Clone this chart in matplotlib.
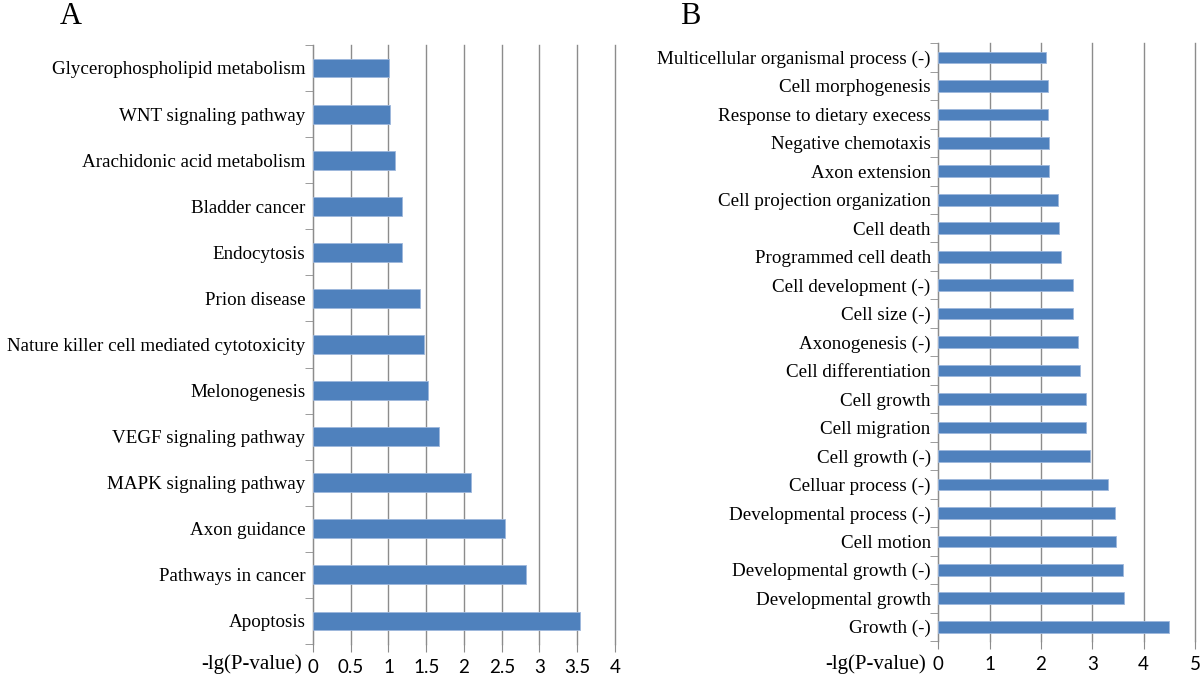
import numpy as np
import matplotlib.pyplot as plt

# panel A (bottom to top)
kegg_terms = ["Apoptosis", "Pathways in cancer", "Axon guidance", "MAPK signaling pathway",
              "VEGF signaling pathway", "Melonogenesis", "Nature killer cell mediated cytotoxicity",
              "Prion disease", "Endocytosis", "Bladder cancer", "Arachidonic acid metabolism",
              "WNT signaling pathway", "Glycerophospholipid metabolism"]
kegg_vals = [3.53, 2.82, 2.54, 2.09, 1.67, 1.53, 1.47, 1.42, 1.18, 1.18, 1.08, 1.02, 1.01]

# panel B (bottom to top)
go_terms = ["Growth (-)", "Developmental growth", "Developmental growth (-)", "Cell motion",
            "Developmental process (-)", "Celluar process (-)", "Cell growth (-)", "Cell migration",
            "Cell growth", "Cell differentiation", "Axonogenesis (-)", "Cell size (-)",
            "Cell development (-)", "Programmed cell death", "Cell death",
            "Cell projection organization", "Axon extension", "Negative chemotaxis",
            "Response to dietary execess", "Cell morphogenesis", "Multicellular organismal process (-)"]
go_vals = [4.50, 3.61, 3.59, 3.46, 3.44, 3.31, 2.95, 2.88, 2.88, 2.76, 2.72, 2.63, 2.62,
           2.39, 2.36, 2.34, 2.16, 2.16, 2.13, 2.13, 2.10]

bar_color = "#4F81BD"
grid_color = "#8c8c8c"
serif = "Liberation Serif"
sans = "Lato"

fig = plt.figure(figsize=(12, 6.8), dpi=100)


def panel(rect, terms, vals, xmax, xticks, xticklabels):
    ax = fig.add_axes(rect)
    y = np.arange(len(terms))
    ax.barh(y, vals, height=0.41, color=bar_color, edgecolor="#9db7dc", linewidth=0.6, zorder=3)
    ax.set_ylim(-0.5, len(terms) - 0.5)
    ax.set_xlim(0, xmax)
    ax.set_xticks(xticks)
    ax.set_xticklabels(xticklabels, fontfamily=sans, fontsize=13.5)
    ax.set_yticks(y)
    ax.set_yticklabels(terms, fontfamily=serif, fontsize=13.7)
    ax.set_yticks(np.arange(len(terms) + 1) - 0.5, minor=True)
    ax.tick_params(axis="y", which="major", length=0, pad=5.5)
    ax.tick_params(axis="y", which="minor", length=6, color=grid_color, direction="out")
    ax.tick_params(axis="x", length=6, color=grid_color, pad=5)
    ax.grid(axis="x", color=grid_color, linewidth=1.0, zorder=0)
    for line in ax.get_xgridlines():
        line.set_clip_on(False)
    for s in ["top", "right", "bottom"]:
        ax.spines[s].set_visible(False)
    ax.spines["left"].set_color(grid_color)
    return ax


panel([0.2608, 0.0529, 0.2517, 0.881], kegg_terms, kegg_vals, 4,
      [0, 0.5, 1, 1.5, 2, 2.5, 3, 3.5, 4], ["0", "0.5", "1", "1.5", "2", "2.5", "3", "3.5", "4"])
panel([0.7819, 0.0574, 0.2139, 0.879], go_terms, go_vals, 5,
      [0, 1, 2, 3, 4, 5], ["0", "1", "2", "3", "4", "5"])

fig.text(0.252, 0.023, "-lg(P-value)", fontfamily=serif, fontsize=15, ha="right", va="center")
fig.text(0.772, 0.023, "-lg(P-value)", fontfamily=serif, fontsize=15, ha="right", va="center")
fig.text(0.05, 0.975, "A", fontfamily=serif, fontsize=22, ha="left", va="center")
fig.text(0.567, 0.975, "B", fontfamily=serif, fontsize=22, ha="left", va="center")

fig.savefig("out.png", dpi=100)
